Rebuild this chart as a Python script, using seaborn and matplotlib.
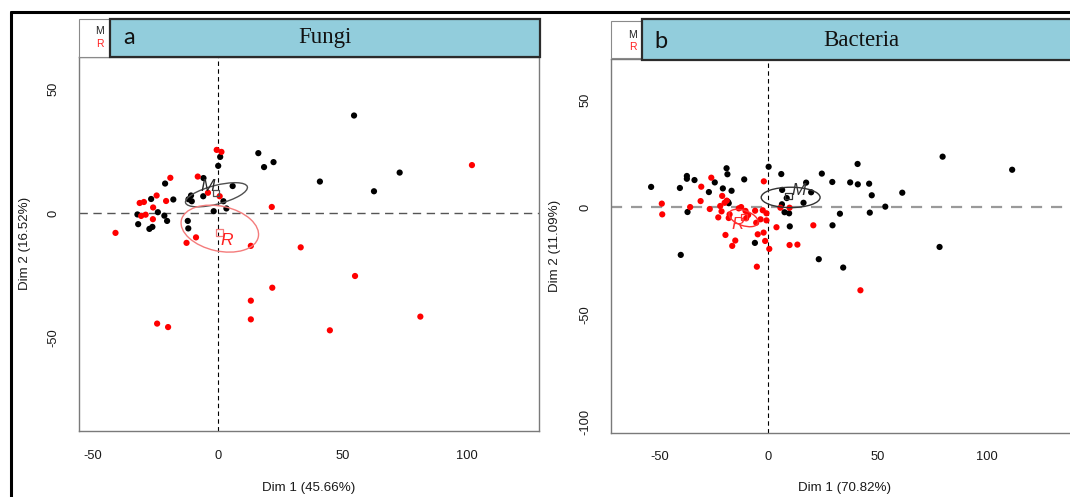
import matplotlib
matplotlib.use("Agg")
import matplotlib.pyplot as plt
from matplotlib.patches import Ellipse, Rectangle
from matplotlib.lines import Line2D
import seaborn as sns
import pandas as pd

# ---------------- data ----------------
fungi_M_x = [54.7, 16.3, 18.6, 22.4, 41.0, 62.7, 73.0, 1.0, 0.2, -5.7, 6.0, -21.1, -17.8, -26.7, -10.7,
             -11.7, -10.4, -5.8, 2.3, -1.6, 3.5, -32.2, -31.9, -24.0, -21.4, -20.3, -27.4, -26.2, -12.0, -11.8]
fungi_M_y = [39.1, 24.0, 18.4, 20.4, 12.6, 8.7, 16.2, 22.5, 18.9, 14.0, 10.8, 11.8, 5.4, 5.6, 7.0,
             5.5, 4.7, 6.7, 4.7, 0.7, 1.8, -0.6, -4.5, 0.3, -1.1, -3.2, -6.4, -5.6, -3.2, -6.2]
fungi_R_x = [-0.4, 1.5, -8.0, -19.0, -3.9, 0.8, -24.5, -31.3, -29.6, -20.7, -25.9, -30.7, -28.9, -26.0,
             21.7, -41.0, -8.7, -12.5, 13.3, 33.3, 102.0, 55.1, 21.9, 13.3, 13.3, -24.3, -19.9, 45.0, 81.3]
fungi_R_y = [25.3, 24.5, 14.6, 14.1, 8.1, 6.7, 7.0, 4.0, 4.4, 4.8, 2.2, -1.2, -0.7, -2.5,
             2.4, -8.0, -9.8, -12.0, -13.2, -13.8, 19.2, -25.3, -30.0, -35.2, -42.7, -44.4, -45.8, -47.1, -41.6]

bact_M_x = [-53.8, -40.6, -37.4, -37.4, -33.9, -19.2, -18.8, -11.1, -24.6, -27.3, -20.9, -16.9, -18.6, -18.2,
            -37.1, 0.1, 5.9, 6.3, 8.4, 6.2, 7.4, 9.5, 9.8, -6.2, -40.2,
            79.9, 111.8, 40.9, 24.5, 29.3, 17.3, 37.5, 41.0, 46.2, 47.4, 61.4, 19.6, 16.1, 53.6, 32.8, 46.5,
            29.4, 78.5, 23.1, 34.3]
bact_M_y = [9.5, 9.0, 14.6, 13.3, 12.7, 18.2, 15.4, 13.0, 11.6, 7.1, 8.8, 7.7, 2.6, 1.9,
            -2.2, 18.9, 15.5, 8.1, 4.3, 1.4, -2.3, -2.8, -8.9, -16.6, -22.2,
            23.6, 17.5, 20.2, 15.7, 11.8, 11.5, 11.6, 10.7, 11.0, 5.6, 6.8, 7.0, 2.1, 0.3, -3.0, -2.5,
            -8.4, -18.5, -24.2, -28.1]
bact_R_x = [-48.9, -48.7, -35.9, -26.2, -30.8, -31.1, -26.9, -21.2, -22.1, -20.1, -19.1, -21.5, -23.0, -17.8,
            -18.2, -13.6, -12.5, -10.5, -6.1, -2.6, -0.9, -3.6, -0.9, -10.2, -2.1, 3.7, -4.9, -2.2, -1.5,
            -19.7, -15.2, -16.6, 0.4, -5.3, 9.7, 13.3, 9.7, 5.5, 20.6, 42.2, -9.3, -5.6]
bact_R_y = [1.7, -3.3, 0.1, 13.8, 9.6, 2.9, -0.8, 5.3, 0.6, 2.1, 3.1, -1.9, -4.7, -3.3,
            -5.0, -0.5, 0.1, -1.7, -1.6, -1.4, -2.8, -5.6, -6.1, -5.1, 12.1, -9.3, -12.6, -11.8, -15.7,
            -12.9, -15.5, -18.0, -19.4, -27.7, -17.6, -17.4, -0.2, -0.2, -8.4, -38.7, -3.6, -7.2]

# confidence ellipses: (center x, center y, width, height, angle)
fungi_ell_M = (-0.5, 7.3, 25.6, 7.5, 14.5)
fungi_ell_R = (0.85, -6.3, 31.6, 18.0, -12.5)
bact_ell_M = (10.2, 4.6, 27.0, 9.5, 0.0)
bact_ell_R = (-11.4, -5.0, 14.0, 7.0, -20.0)
# group centroids (square) and label positions
fungi_cent = {"M": (-0.7, 8.0), "R": (0.8, -7.8)}
fungi_lab = {"M": (-3.9, 10.6), "R": (3.8, -10.9)}
bact_cent = {"M": (9.3, 5.2), "R": (-11.2, -4.6)}
bact_lab = {"M": (14.0, 7.6), "R": (-14.0, -8.2)}

panel_titles = ["Fungi", "Bacteria"]
panel_letters = ["a", "b"]
xlabels = ["Dim 1 (45.66%)", "Dim 1 (70.82%)"]
ylabels = ["Dim 2 (16.52%)", "Dim 2 (11.09%)"]
groups = ["M", "R"]

# ---------------- figure ----------------
sns.set_style("white")
plt.rcParams["font.family"] = ["Liberation Sans", "DejaVu Sans"]
W, H = 1070, 497
fig = plt.figure(figsize=(W / 100, H / 100), dpi=100)


def fx(px):
    return px / W


def fy(py):
    return (H - py) / H


palette = {"M": "black", "R": "#FF0000"}
spine_col = "#7a7a7a"


def make_df(mx, my, rx, ry):
    return pd.DataFrame({
        "x": list(mx) + list(rx),
        "y": list(my) + list(ry),
        "group": ["M"] * len(mx) + ["R"] * len(rx),
    })


panels = [
    dict(df=make_df(fungi_M_x, fungi_M_y, fungi_R_x, fungi_R_y),
         rect=(78.6, 56.7, 539.0, 431.0), xlim=(-55.8, 128.9), ylim=(-87.5, 62.7),
         yticks=[-50, 0, 50], ell={"M": fungi_ell_M, "R": fungi_ell_R},
         ellcol={"M": "#505050", "R": "#F47C7C"}, labcol={"M": "#2a2a2a", "R": "#FF2020"},
         cent=fungi_cent, lab=fungi_lab,
         hcol="#555555", hlw=1.0, hdash=(6, 4),
         white=(78.6, 18.7, 110.0, 56.7), blue=(110.0, 18.7, 540.0, 56.7),
         letter_x=129, title_x=325, strip_y=38, mr_x=104, ylab_x=25),
    dict(df=make_df(bact_M_x, bact_M_y, bact_R_x, bact_R_y),
         rect=(611.0, 59.3, 1078.0, 432.7), xlim=(-72.2, 142.0), ylim=(-105.1, 69.0),
         yticks=[-100, -50, 0, 50], ell={"M": bact_ell_M, "R": bact_ell_R},
         ellcol={"M": "#333333", "R": "#FF3030"}, labcol={"M": "#333333", "R": "#FF3030"},
         cent=bact_cent, lab=bact_lab,
         hcol="#9a9a9a", hlw=1.6, hdash=(5, 4),
         white=(611.0, 20.7, 641.7, 58.3), blue=(641.7, 19.3, 1082.0, 60.0),
         letter_x=661, title_x=861, strip_y=41, mr_x=637, ylab_x=555),
]

for i, p in enumerate(panels):
    l, t, r, b = p["rect"]
    ax = fig.add_axes([fx(l), fy(b), (r - l) / W, (b - t) / H])
    ax.axhline(0, color=p["hcol"], lw=p["hlw"], dashes=p["hdash"], zorder=1)
    ax.axvline(0, color="black", lw=0.8, dashes=(4, 3), zorder=1)
    sns.scatterplot(data=p["df"], x="x", y="y", hue="group", palette=palette,
                    s=20, linewidth=0, legend=False, ax=ax, zorder=3)
    for g in groups:
        cx, cy, w, h, ang = p["ell"][g]
        ax.add_patch(Ellipse((cx, cy), w, h, angle=ang, fill=False,
                             edgecolor=p["ellcol"][g], lw=1.0, zorder=4))
        sx, sy = p["cent"][g]
        ax.scatter([sx], [sy], marker="s", s=22, facecolors="none",
                   edgecolors=p["ellcol"][g], linewidths=0.9, zorder=5)
        lx, ly = p["lab"][g]
        ax.text(lx, ly, g, color=p["labcol"][g],
                fontsize=12.5, style="italic", ha="center", va="center", zorder=6)
    ax.set_xlim(*p["xlim"])
    ax.set_ylim(*p["ylim"])
    ax.set_xticks([-50, 0, 50, 100])
    ax.set_yticks(p["yticks"])
    ax.set_xticklabels(["-50", "0", "50", "100"])
    ax.set_yticklabels([str(v) for v in p["yticks"]], rotation=90, va="center")
    ax.tick_params(axis="both", direction="out", length=6.5, width=0.9, color=spine_col,
                   labelsize=9.3, labelcolor="#1a1a1a", pad=7)
    ax.tick_params(axis="y", pad=7.5)
    for s in ax.spines.values():
        s.set_visible(True)
        s.set_color(spine_col)
        s.set_linewidth(1.0)
    ax.set_xlabel(xlabels[i], fontsize=9.6, color="#1a1a1a")
    ax.set_ylabel(ylabels[i], fontsize=9.6, color="#1a1a1a")
    ax.xaxis.set_label_coords(0.5, -(488 - b) / (b - t))
    ax.xaxis.label.set_va("center")
    ax.yaxis.set_label_coords(-(l - p["ylab_x"]) / (r - l), 0.5)
    ax.yaxis.label.set_va("center")

    # strip: white legend box + blue title box
    wl, wt, wr, wb = p["white"]
    fig.patches.append(Rectangle((fx(wl), fy(wb)), (wr - wl) / W, (wb - wt) / H,
                                 transform=fig.transFigure, facecolor="white",
                                 edgecolor="#8a8a8a", lw=0.8, zorder=5))
    bl, bt, br, bb = p["blue"]
    fig.patches.append(Rectangle((fx(bl), fy(bb)), (br - bl) / W, (bb - bt) / H,
                                 transform=fig.transFigure, facecolor="#92CDDC",
                                 edgecolor="#2b2b2b", lw=1.6, zorder=6))
    fig.text(fx(p["mr_x"]), fy(p["strip_y"] - 6.5), "M", color="#222222", fontsize=7.5,
             ha="right", va="center", zorder=10)
    fig.text(fx(p["mr_x"]), fy(p["strip_y"] + 6), "R", color="#FF2020", fontsize=7.5,
             ha="right", va="center", zorder=10)
    fig.text(fx(p["letter_x"]), fy(p["strip_y"]), panel_letters[i], fontsize=17,
             family=["Lato", "DejaVu Sans"], ha="center", va="center", color="#111111",
             zorder=10)
    fig.text(fx(p["title_x"]), fy(p["strip_y"]), panel_titles[i], fontsize=16.5,
             family=["Liberation Serif", "DejaVu Serif"], ha="center", va="center",
             color="#111111", zorder=10)

# outer black frame (top and left)
fig.lines.append(Line2D([fx(11), fx(1070)], [fy(12), fy(12)], transform=fig.transFigure,
                        color="black", lw=2.2, zorder=10))
fig.lines.append(Line2D([fx(11), fx(11)], [fy(12), fy(497)], transform=fig.transFigure,
                        color="black", lw=2.2, zorder=10))

fig.savefig("out.png", dpi=100)
